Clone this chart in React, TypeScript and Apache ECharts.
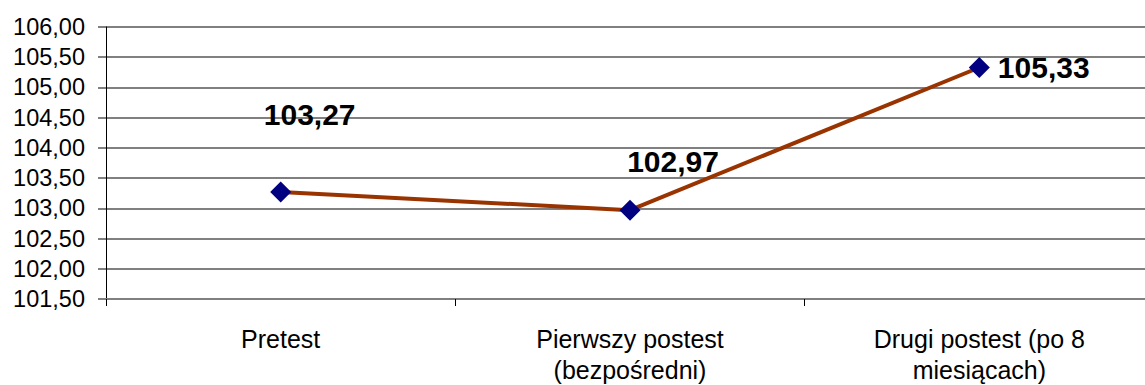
import React, { useEffect, useRef } from "react";
import * as echarts from "echarts";

const categories = ["Pretest", "Pierwszy postest\n(bezpośredni)", "Drugi postest (po 8\nmiesiącach)"];
const values = [103.27, 102.97, 105.33];
const yMin = 101.5;
const yMax = 106;
const yStep = 0.5;

const fmt = (v: number) => v.toFixed(2).replace(".", ",");

export default function App() {
  const ref = useRef<HTMLDivElement>(null);
  useEffect(() => {
    if (!ref.current) return;
    const chart = echarts.init(ref.current, undefined, { renderer: "svg" });
    const labelCfg = [
      { position: "inside", offset: [29, -78] },
      { position: "inside", offset: [43, -49] },
      { position: "right", distance: 8 },
    ];
    chart.setOption({
      animation: false,
      backgroundColor: "#ffffff",
      grid: { left: 106, right: 0, top: 27, bottom: 79 },
      xAxis: {
        type: "category",
        data: categories,
        boundaryGap: true,
        axisLine: { lineStyle: { color: "#808080", width: 2 } },
        axisTick: { show: true, length: 7, lineStyle: { color: "#000000", width: 1 } },
        axisLabel: {
          color: "#000000",
          fontFamily: "Liberation Sans, Arial, sans-serif",
          fontSize: 25,
          lineHeight: 31,
          margin: 24,
          interval: 0,
        },
        splitLine: { show: false },
      },
      yAxis: {
        type: "value",
        min: yMin,
        max: yMax,
        interval: yStep,
        axisLine: { show: true, lineStyle: { color: "#000000", width: 1 } },
        axisTick: { show: true, length: 8, lineStyle: { color: "#808080", width: 2 } },
        axisLabel: {
          color: "#000000",
          fontFamily: "Liberation Sans, Arial, sans-serif",
          fontSize: 23.5,
          margin: 21,
          formatter: (v: number) => fmt(v),
        },
        splitLine: { show: true, lineStyle: { color: "#808080", width: 2 } },
      },
      series: [
        {
          type: "line",
          data: values.map((v, i) => ({
            value: v,
            label: { show: true, ...labelCfg[i] },
          })),
          symbol: "diamond",
          symbolSize: 21,
          itemStyle: { color: "#000080" },
          lineStyle: { color: "#993300", width: 4 },
          z: 5,
          label: {
            show: true,
            color: "#000000",
            fontFamily: "Liberation Sans, Arial, sans-serif",
            fontWeight: "bold",
            fontSize: 30,
            formatter: (p: any) => fmt(p.value),
          },
        },
      ],
    });
    return () => chart.dispose();
  }, []);
  return (
    <div
      ref={ref}
      style={{ position: "fixed", left: 0, top: 0, width: 1154, height: 385 }}
    />
  );
}
